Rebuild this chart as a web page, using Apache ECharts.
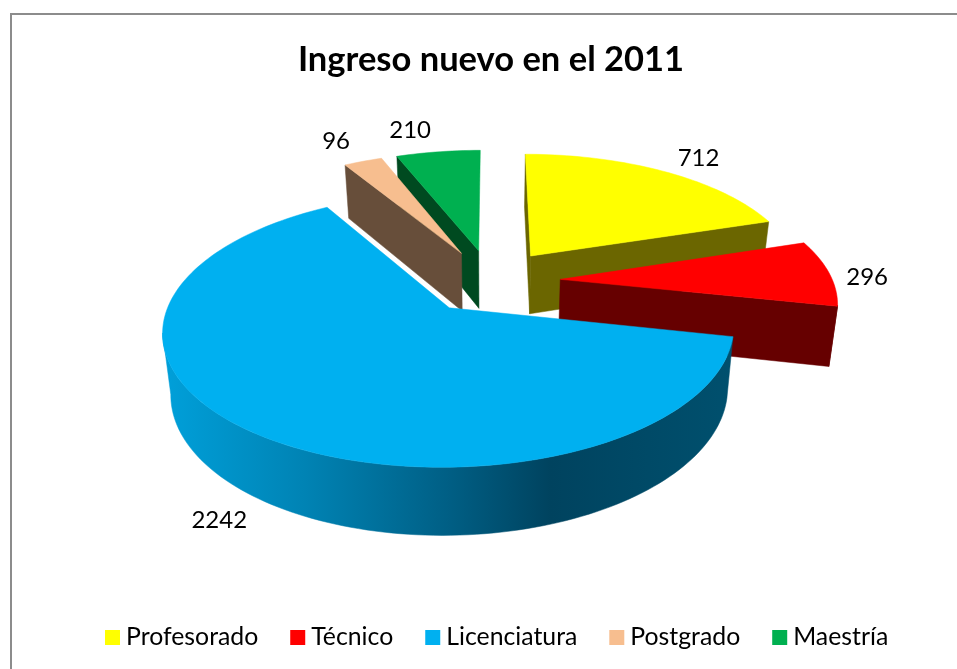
<!DOCTYPE html>
<html>
<head>
<meta charset="utf-8">
<script src="https://cdn.jsdelivr.net/npm/echarts@6/dist/echarts.min.js"></script>
<style>html,body{margin:0;padding:0;background:#fff}#c{width:957px;height:669px}</style>
</head>
<body>
<div id="c"></div>
<script>
var titleText = 'Ingreso nuevo en el 2011';
var categories = ['Profesorado', 'Técnico', 'Licenciatura', 'Postgrado', 'Maestría'];
var values = [712, 296, 2242, 96, 210];

// Styling and view constants
var topColors = ['#FFFF00', '#FF0000', '#00B0F0', '#F7BE8F', '#00B050'];
var sideColors = ['#6B6600', '#660000', '#005F80', '#674E3A', '#004A20'];
var drawOrder = [3, 4, 5, 2, 1];
var labelNudge = [[34, -13], [38, 4], [-35, 87], [-27, -20], [-28, -22]];
var view = { cx: 491, cy: 281, A: 272.5, B: 125, k: 0.157, h: 59, shrink: 0.975, explode: 0.255 };
var font = 'Lato, Carlito, "Open Sans", sans-serif';

var total = values.reduce(function (a, b) { return a + b; }, 0);
var RAD = Math.PI / 180;

function project(X, Y, low) {
  var w = 1 - view.k * Y, s = low ? view.shrink : 1;
  return [
    view.cx + view.A * X / w * s,
    view.cy + view.B * Y / w * s + (low ? view.h / w : 0)
  ];
}

function makeRender(idx) {
  var start = 0;
  for (var i = 0; i < idx; i++) start += values[i] / total * 360;
  return function (params, api) {
    var sweep = api.value(0) / total * 360, end = start + sweep, mid = start + sweep / 2;
    var ox = view.explode * Math.sin(mid * RAD), oy = -view.explode * Math.cos(mid * RAD);
    var rim = function (deg, low) {
      return project(ox + Math.sin(deg * RAD), oy - Math.cos(deg * RAD), low);
    };
    var apex = function (low) { return project(ox, oy, low); };
    var arc = function (a, b, low) {
      var pts = [], n = Math.max(2, Math.ceil(Math.abs(b - a) / 1.5));
      for (var j = 0; j <= n; j++) pts.push(rim(a + (b - a) * j / n, low));
      return pts;
    };
    var poly = function (pts, fill) {
      return { type: 'polygon', shape: { points: pts }, style: { fill: fill, stroke: fill, lineWidth: 0.5 } };
    };
    // silhouette angles of the outer wall, where the rim is widest on screen
    var rightTan = 60, leftTan = 200, d;
    for (d = 60; d <= 120; d += 0.5) if (rim(d, false)[0] > rim(rightTan, false)[0]) rightTan = d;
    for (d = 200; d <= 320; d += 0.5) if (rim(d, false)[0] < rim(leftTan, false)[0]) leftTan = d;
    var kids = [];
    // outer wall, front-facing part only
    var a0 = Math.max(start, rightTan), a1 = Math.min(end, leftTan);
    if (a1 > a0) {
      var wall = arc(a0, a1, false).concat(arc(a1, a0, true));
      var fill = sideColors[idx];
      if (idx === 2) {
        fill = new echarts.graphic.LinearGradient(0, 0, 1, 0, [
          { offset: 0, color: '#00A0DA' },
          { offset: 0.25, color: '#0083B4' },
          { offset: 0.5, color: '#005F85' },
          { offset: 0.68, color: '#00435F' },
          { offset: 1, color: '#00506E' }
        ]);
      }
      kids.push(poly(wall, fill));
    }
    // cut faces seen from the camera
    if (-Math.sin(start * RAD) >= -1e-9) {
      kids.push(poly([apex(false), rim(start, false), rim(start, true), apex(true)], sideColors[idx]));
    }
    if (Math.sin(end * RAD) > 1e-9) {
      kids.push(poly([apex(false), rim(end, false), rim(end, true), apex(true)], sideColors[idx]));
    }
    // top face
    kids.push(poly([apex(false)].concat(arc(start, end, false)), topColors[idx]));
    // data label
    var anchor = rim(mid, false);
    kids.push({
      type: 'text',
      style: {
        text: String(api.value(0)),
        x: anchor[0] + labelNudge[idx][0],
        y: anchor[1] + labelNudge[idx][1],
        align: 'center', verticalAlign: 'middle',
        fill: '#000', font: '24px ' + font
      }
    });
    return { type: 'group', children: kids };
  };
}

var chart = echarts.init(document.getElementById('c'), null, { renderer: 'canvas' });
chart.setOption({
  animation: false,
  backgroundColor: '#fff',
  title: {
    text: titleText, left: 486, top: 37, textAlign: 'center',
    textStyle: { fontFamily: font, fontSize: 34.5, fontWeight: 'bold', color: '#000' }
  },
  legend: {
    data: categories, left: 100, top: 620, itemWidth: 15, itemHeight: 15, itemGap: 32,
    icon: 'rect', selectedMode: false,
    textStyle: { fontFamily: font, fontSize: 24.8, color: '#000', padding: [0, 0, 0, 1] }
  },
  graphic: [{
    type: 'polyline', silent: true,
    shape: { points: [[11, 669], [11, 14], [957, 14]] },
    style: { stroke: '#8C8C8C', lineWidth: 2, fill: null }
  }],
  series: categories.map(function (name, i) {
    return {
      type: 'custom', name: name, coordinateSystem: 'none', z: drawOrder[i],
      itemStyle: { color: topColors[i] },
      renderItem: makeRender(i),
      data: [[values[i]]]
    };
  })
});
</script>
</body>
</html>
